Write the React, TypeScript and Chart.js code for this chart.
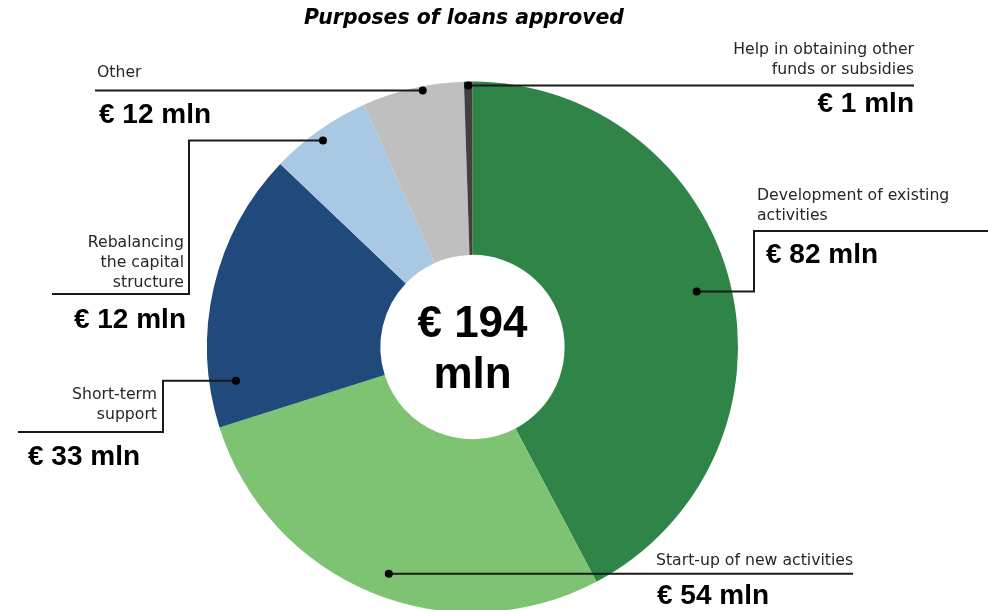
import { useEffect, useRef } from "react";
import { Chart, registerables } from "chart.js";

Chart.register(...registerables);

// ---- data ----
const categories = [
  "Development of existing activities",
  "Start-up of new activities",
  "Short-term support",
  "Rebalancing the capital structure",
  "Other",
  "Help in obtaining other funds or subsidies",
];
const values = [82, 54, 33, 12, 12, 1];
const nameLines = [
  ["Development of existing", "activities"],
  ["Start-up of new activities"],
  ["Short-term", "support"],
  ["Rebalancing", "the capital", "structure"],
  ["Other"],
  ["Help in obtaining other", "funds or subsidies"],
];
const titleText = "Purposes of loans approved";
const unitText = "mln";
const currency = "€";

// ---- styles ----
const colors = ["#2F8447", "#7DC372", "#204A7C", "#A8C8E4", "#BFBFBF", "#404040"];

// ---- layout of labels (positions only) ----
type Layout = {
  at: number; // fraction along the slice angle
  r: number; // fraction of outer radius
  elbowX?: number;
  lineY?: number;
  endX: number;
  nameX: number;
  nameY: number;
  nameGap: number;
  nameAlign: CanvasTextAlign;
  valX: number;
  valY: number;
  valAlign: CanvasTextAlign;
};
const layouts: Layout[] = [
  { at: 0.5, r: 0.87, elbowX: 754, lineY: 231, endX: 988, nameX: 757, nameY: 200, nameGap: 20, nameAlign: "left", valX: 766, valY: 263, valAlign: "left" },
  { at: 0.48, r: 0.91, endX: 853, nameX: 656, nameY: 565, nameGap: 20, nameAlign: "left", valX: 657, valY: 604, valAlign: "left" },
  { at: 0.155, r: 0.9, elbowX: 163, lineY: 432, endX: 18, nameX: 157, nameY: 399, nameGap: 20, nameAlign: "right", valX: 28, valY: 465, valAlign: "left" },
  { at: 0.47, r: 0.96, elbowX: 189, lineY: 294, endX: 52, nameX: 184, nameY: 247, nameGap: 20, nameAlign: "right", valX: 186, valY: 328, valAlign: "right" },
  { at: 0.59, r: 0.984, endX: 95, nameX: 97, nameY: 77, nameGap: 20, nameAlign: "left", valX: 99, valY: 123, valAlign: "left" },
  { at: 0.5, r: 0.985, endX: 914, nameX: 914, nameY: 54, nameGap: 20, nameAlign: "right", valX: 914, valY: 112, valAlign: "right" },
];

const LABEL_FONT = "15.7px 'DejaVu Sans'";
const VALUE_FONT = "bold 28px 'Liberation Sans'";
const CENTER_FONT = "bold 44px 'Liberation Sans'";
const TITLE_FONT = "italic bold 20.4px 'DejaVu Sans'";
const INK = "#1a1a1a";
const LABEL_INK = "#262626";

const labelsPlugin = {
  id: "leaderLabels",
  afterDatasetsDraw(chart: any) {
    const ctx: CanvasRenderingContext2D = chart.ctx;
    const meta = chart.getDatasetMeta(0);
    const total = values.reduce((a, b) => a + b, 0);
    ctx.save();

    // title
    ctx.fillStyle = "#000";
    ctx.font = TITLE_FONT;
    ctx.textAlign = "center";
    ctx.textBaseline = "alphabetic";
    ctx.fillText(titleText, 464, 24);

    let cx = 0;
    let cy = 0;
    meta.data.forEach((arc: any, i: number) => {
      const L = layouts[i];
      cx = arc.x;
      cy = arc.y;
      const a = arc.startAngle + L.at * (arc.endAngle - arc.startAngle);
      const rr = arc.outerRadius * L.r;
      const px = arc.x + rr * Math.cos(a);
      const py = arc.y + rr * Math.sin(a);

      ctx.strokeStyle = INK;
      ctx.lineWidth = 2;
      ctx.beginPath();
      ctx.moveTo(px, py);
      if (L.elbowX !== undefined && L.lineY !== undefined) {
        ctx.lineTo(L.elbowX, py);
        ctx.lineTo(L.elbowX, L.lineY);
        ctx.lineTo(L.endX, L.lineY);
      } else {
        ctx.lineTo(L.endX, py);
      }
      ctx.stroke();

      ctx.fillStyle = "#000";
      ctx.beginPath();
      ctx.arc(px, py, 4, 0, Math.PI * 2);
      ctx.fill();

      ctx.fillStyle = LABEL_INK;
      ctx.font = LABEL_FONT;
      ctx.textAlign = L.nameAlign;
      nameLines[i].forEach((t, k) => ctx.fillText(t, L.nameX, L.nameY + k * L.nameGap));

      ctx.fillStyle = "#000";
      ctx.font = VALUE_FONT;
      ctx.textAlign = L.valAlign;
      ctx.fillText(`${currency} ${values[i]} ${unitText}`, L.valX, L.valY);
    });

    // center total
    ctx.fillStyle = "#000";
    ctx.font = CENTER_FONT;
    ctx.textAlign = "center";
    ctx.fillText(`${currency} ${total}`, cx, cy - 10);
    ctx.fillText(unitText, cx, cy + 41);
    ctx.restore();
  },
};

export default function App() {
  const ref = useRef<HTMLCanvasElement | null>(null);
  useEffect(() => {
    if (!ref.current) return;
    const chart = new Chart(ref.current, {
      type: "doughnut",
      data: {
        labels: categories,
        datasets: [
          {
            data: values,
            backgroundColor: colors,
            borderWidth: 0,
            hoverOffset: 0,
          },
        ],
      },
      options: {
        responsive: false,
        devicePixelRatio: 1,
        animation: false,
        cutout: "34.7%",
        layout: { padding: { top: 81.5, bottom: 27.5, left: 200, right: 243 } },
        plugins: {
          legend: { display: false },
          tooltip: { enabled: false },
          title: { display: false },
        },
      },
      plugins: [labelsPlugin],
    });
    return () => chart.destroy();
  }, []);
  return (
    <div
      style={{
        position: "fixed",
        left: 0,
        top: 0,
        width: 988,
        height: 610,
        overflow: "hidden",
        background: "#fff",
      }}
    >
      <canvas ref={ref} width={988} height={640} style={{ display: "block" }} />
    </div>
  );
}
